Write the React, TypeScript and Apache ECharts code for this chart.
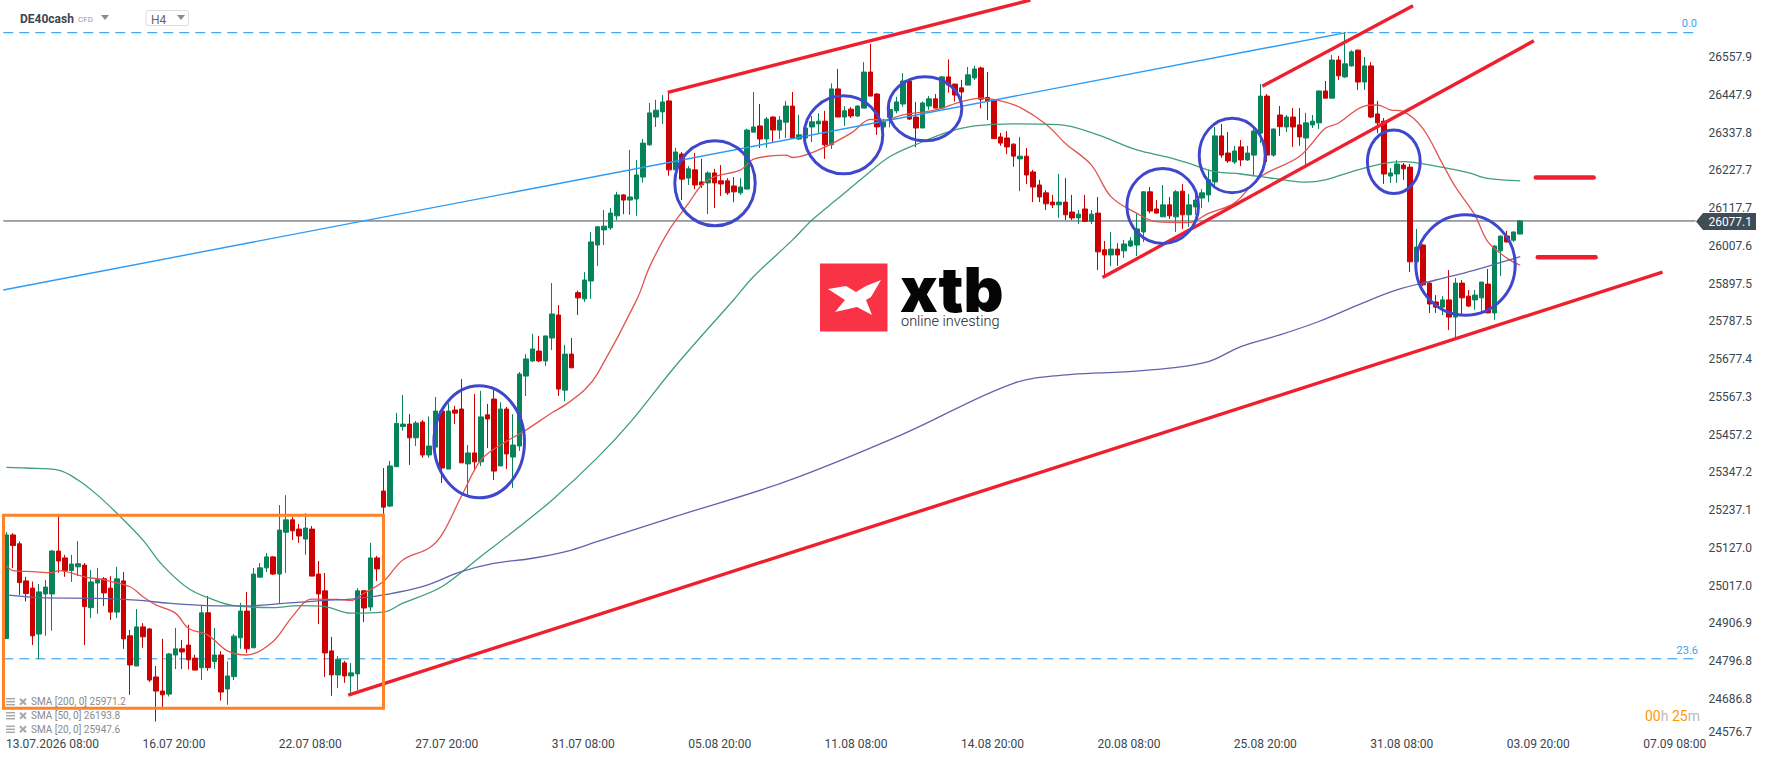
import React, { useEffect, useRef } from 'react';
import * as echarts from 'echarts';

// [open, close, low, high], one row per H4 bar
const ohlc: number[][] = [
  [24860,25162,24860,25170],[25162,25131,25065,25167],[25136,25023,24987,25143],[25028,24991,24968,25040],[25007,24868,24841,25026],
  [24873,24996,24800,25019],[24990,25010,24868,25031],[24990,25115,24883,25118],[25115,25086,25052,25217],[25095,25058,25040,25104],
  [25058,25077,25025,25104],[25069,25078,25042,25144],[25074,24953,24841,25080],[24950,25025,24920,25060],[25022,25032,24932,25066],
  [25034,24993,24955,25039],[25007,24937,24914,25042],[24937,25034,24920,25069],[25028,24859,24830,25054],[24868,24783,24696,24885],
  [24780,24894,24780,24946],[24894,24865,24833,24905],[24888,24739,24733,24891],[24748,24707,24618,24780],[24707,24696,24657,24859],
  [24698,24815,24691,24818],[24812,24830,24771,24891],[24830,24821,24771,24856],[24841,24798,24770,24900],[24803,24768,24768,24813],
  [24775,24935,24739,24958],[24935,24775,24766,24984],[24793,24812,24772,24891],[24812,24704,24679,24823],[24713,24751,24667,24793],
  [24749,24867,24739,24873],[24862,24940,24830,24964],[24940,24830,24818,24996],[24833,25048,24833,25066],[25039,25066,25039,25080],
  [25066,25098,25054,25109],[25098,25048,25045,25100],[25048,25176,24961,25249],[25170,25206,25051,25278],[25206,25174,25147,25214],
  [25179,25159,25139,25194],[25150,25182,25104,25225],[25179,25042,25042,25188],[25048,24990,24902,25086],[24999,24818,24748,25051],
  [24824,24754,24693,24865],[24754,24800,24716,24809],[24789,24751,24731,24795],[24751,24760,24698,24789],[24757,24999,24710,25007],
  [24999,24949,24908,25000],[24952,25095,24940,25139],[25095,25063,25028,25101],[25290,25243,25223,25357],[25246,25363,25243,25378],
  [25361,25487,25361,25518],[25478,25485,25466,25570],[25485,25445,25366,25514],[25445,25488,25421,25494],[25491,25395,25387,25497],
  [25395,25421,25387,25507],[25418,25523,25410,25564],[25523,25357,25313,25530],[25354,25523,25354,25546],[25526,25517,25485,25538],
  [25529,25372,25372,25616],[25369,25401,25278,25424],[25401,25375,25348,25573],[25375,25506,25363,25582],[25512,25500,25415,25544],
  [25558,25348,25322,25587],[25363,25529,25363,25549],[25529,25398,25354,25535],[25389,25424,25299,25514],[25421,25631,25407,25637],
  [25625,25675,25567,25689],[25669,25704,25666,25748],[25698,25669,25666,25742],[25669,25742,25654,25742],[25736,25806,25701,25896],
  [25803,25587,25567,25832],[25584,25689,25552,25716],[25689,25649,25649,25736],[25868,25853,25803,25874],[25850,25905,25841,25928],
  [25902,26016,25850,26045],[26007,26060,25946,26062],[26051,26062,26007,26109],[26057,26100,26051,26115],[26092,26153,26080,26162],
  [26153,26138,26097,26155],[26138,26147,26095,26284],[26141,26211,26092,26255],[26205,26304,26189,26316],[26299,26392,26296,26421],
  [26380,26400,26351,26430],[26395,26424,26360,26444],[26427,26226,26209,26451],[26226,26278,26226,26290],[26272,26199,26138,26278],
  [26202,26229,26182,26237],[26226,26182,26170,26275],[26191,26182,26173,26258],[26188,26217,26097,26222],[26217,26188,26115,26229],
  [26194,26185,26150,26240],[26194,26159,26153,26202],[26179,26162,26132,26205],[26159,26176,26153,26202],[26170,26342,26170,26346],
  [26336,26351,26336,26453],[26354,26316,26290,26418],[26316,26374,26291,26380],[26380,26342,26307,26382],[26342,26371,26316,26383],
  [26365,26412,26319,26427],[26412,26319,26316,26453],[26316,26328,26313,26386],[26319,26348,26313,26362],[26351,26366,26307,26383],
  [26360,26368,26333,26391],[26368,26299,26258,26398],[26299,26462,26287,26478],[26462,26380,26380,26520],[26380,26398,26354,26412],
  [26403,26383,26377,26409],[26383,26412,26380,26414],[26406,26511,26406,26540],[26511,26441,26441,26593],[26447,26351,26328,26450],
  [26351,26366,26342,26375],[26379,26402,26350,26415],[26398,26424,26391,26439],[26418,26485,26410,26508],[26485,26374,26371,26488],
  [26380,26348,26292,26424],[26348,26421,26348,26425],[26412,26433,26401,26441],[26433,26406,26406,26447],[26406,26497,26406,26500],
  [26497,26473,26451,26548],[26476,26444,26425,26477],[26465,26453,26430,26488],[26473,26503,26473,26526],[26494,26520,26488,26529],
  [26523,26432,26405,26527],[26437,26427,26371,26511],[26430,26317,26317,26432],[26322,26304,26296,26334],[26319,26293,26272,26339],
  [26301,26266,26235,26303],[26258,26266,26164,26322],[26266,26211,26185,26290],[26220,26176,26132,26226],[26182,26147,26132,26197],
  [26159,26127,26109,26167],[26132,26124,26115,26153],[26124,26132,26086,26214],[26132,26095,26080,26202],[26103,26086,26080,26153],
  [26086,26097,26068,26109],[26112,26076,26076,26153],[26076,26097,26068,26109],[26100,25987,25934,26147],[25993,25978,25917,26019],
  [25978,25995,25946,26045],[25995,25978,25946,26012],[25990,26010,25969,26022],[26004,26019,26001,26030],[26007,26054,25975,26097],
  [26045,26162,26016,26164],[26162,26106,26099,26176],[26112,26100,26099,26138],[26089,26124,26089,26182],[26124,26092,26083,26147],
  [26089,26162,26045,26167],[26164,26095,26054,26185],[26095,26124,26060,26156],[26118,26138,26095,26167],[26144,26159,26115,26170],
  [26153,26197,26132,26226],[26191,26325,26173,26351],[26325,26269,26261,26360],[26275,26252,26246,26336],[26249,26281,26243,26296],
  [26293,26255,26237,26313],[26255,26275,26252,26296],[26269,26339,26208,26345],[26333,26441,26304,26476],[26441,26269,26249,26447],
  [26269,26345,26264,26347],[26386,26352,26325,26412],[26351,26380,26336,26386],[26380,26351,26293,26406],[26357,26322,26296,26406],
  [26319,26363,26240,26392],[26357,26368,26348,26386],[26363,26456,26345,26458],[26456,26435,26435,26485],[26435,26546,26435,26561],
  [26546,26500,26488,26558],[26497,26535,26494,26628],[26529,26570,26527,26575],[26575,26482,26459,26577],[26482,26529,26459,26555],
  [26529,26380,26377,26540],[26389,26363,26333,26427],[26368,26214,26185,26377],[26208,26217,26188,26232],[26214,26243,26188,26255],
  [26240,26229,26197,26246],[26234,25958,25928,26243],[25958,26001,25958,26054],[26007,25891,25888,26009],[25896,25835,25809,25898],
  [25841,25826,25809,25861],[25826,25847,25803,25858],[25847,25797,25759,25934],[25797,25896,25736,25911],[25896,25853,25800,25905],
  [25858,25829,25826,25876],[25847,25861,25818,25876],[25853,25899,25812,25899],[25893,25809,25809,25937],[25809,26004,25789,26006],
  [25990,26033,25917,26035],[26033,26016,26014,26048],[26021,26045,26016,26046],[26039,26077,26039,26080],
];

// moving averages as [bar index, price]
const sma20 = [[0,25072],[1,25058],[4,25055],[7,25052],[8,25058],[12,25040],[15,25031],[19,25011],[21,24982],[23,24958],[26,24934],[28,24890],[31,24870],[34,24824],[37,24812],[41,24851],[44,24924],[47,24975],[51,24974],[53,24971],[55,24992],[58,25026],[61,25089],[65,25123],[67,25162],[70,25274],[73,25380],[76,25424],[80,25468],[84,25519],[86,25541],[89,25585],[91,25633],[97,25847],[99,25944],[102,26051],[105,26129],[107,26182],[109,26206],[113,26226],[115,26257],[120,26269],[121,26262],[125,26284],[130,26333],[133,26373],[135,26371],[138,26386],[143,26401],[147,26425],[150,26435],[153,26427],[156,26408],[160,26359],[163,26303],[167,26240],[170,26148],[174,26099],[177,26075],[182,26072],[185,26099],[189,26129],[193,26206],[199,26265],[203,26347],[205,26362],[209,26412],[211,26415],[213,26401],[215,26396],[218,26347],[221,26245],[223,26177],[226,26095],[228,26017],[231,25968],[233,25948]];
const sma50 = [[0,25359],[3,25357],[8,25351],[11,25322],[14,25278],[17,25225],[21,25147],[24,25074],[28,25006],[32,24972],[35,24956],[41,24950],[45,24956],[49,24953],[53,24934],[58,24937],[61,24963],[67,25011],[73,25099],[78,25172],[84,25264],[91,25388],[96,25490],[103,25655],[112,25849],[115,25915],[121,26022],[124,26080],[128,26143],[132,26206],[136,26265],[141,26308],[145,26337],[149,26354],[155,26360],[162,26358],[168,26328],[174,26284],[179,26262],[182,26245],[186,26221],[190,26214],[195,26201],[200,26190],[203,26197],[208,26226],[212,26245],[215,26250],[220,26237],[225,26218],[228,26201],[233,26194]];
const sma200 = [[0,24987],[5,24979],[14,24977],[20,24972],[25,24963],[31,24956],[37,24955],[43,24963],[49,24971],[53,24975],[58,24987],[64,25011],[70,25055],[75,25079],[81,25094],[87,25118],[91,25143],[103,25216],[120,25318],[138,25456],[155,25604],[164,25630],[172,25637],[179,25648],[185,25667],[190,25711],[196,25745],[202,25784],[208,25832],[214,25876],[220,25905],[226,25934],[233,25973]];

const priceTicks = [26557.9,26447.9,26337.8,26227.7,26117.7,26007.6,25897.5,25787.5,25677.4,25567.3,25457.2,25347.2,25237.1,25127.0,25017.0,24906.9,24796.8,24686.8,24576.7];
const dateLabels = ['13.07.2026 08:00','16.07 20:00','22.07 08:00','27.07 20:00','31.07 08:00','05.08 20:00','11.08 08:00','14.08 20:00','20.08 08:00','25.08 20:00','31.08 08:00','03.09 20:00','07.09 08:00'];
const legendRows = ['SMA [200, 0] 25971.2','SMA [50, 0] 26193.8','SMA [20, 0] 25947.6'];

const lastPrice = 26077.1;
const fib0 = 26625.8;
const fib236 = 24800.9;

// drawn lines as [[bar position, price], [bar position, price]]
const fibTrend = [[0,25876],[206.7,26626]];
const redThin = [
  [[102.3,26452],[158.1,26721]],
  [[193.8,26470],[217,26704]],
  [[169.2,25912],[235.6,26602]],
  [[53.1,24695],[255.4,25928]],
];
const redDashes = [
  [[235.9,26204],[244.8,26204]],
  [[236.2,25971],[245.1,25971]],
];

const circles = [
  [479.2,441.8,45.3,56],[715,183.3,40.2,42.5],[843.5,134.8,39.3,39],[925,108.8,36.8,32],
  [1162.7,206,35.8,37.5],[1232.2,155.5,33,37.3],[1393.8,161.7,26.4,31.8],[1465.5,265,49.7,50.2],
];

const BAR_SLOTS = 261;
const FONT = 'Roboto';

function overlay(data: number[][], color: string, width: number, z: number, extra: object = {}) {
  return {
    type: 'line', xAxisIndex: 1, yAxisIndex: 0, data, showSymbol: false, silent: true, z,
    lineStyle: { color, width, ...extra },
  };
}

function smaLine(data: number[][], color: string) {
  return { type: 'line', data, showSymbol: false, silent: true, z: 3, smooth: 0.35, lineStyle: { color, width: 1.3 } };
}

function txt(text: string, x: number, y: number, fontSize: number, fill: string, extra: object = {}) {
  return {
    type: 'text', z: 12, silent: true,
    style: { text, x, y, fontSize, fontFamily: FONT, fill, verticalAlign: 'middle', ...extra },
  };
}

function tri(x: number) {
  return { type: 'polygon', z: 12, silent: true, shape: { points: [[x, 15], [x + 8, 15], [x + 4, 20]] }, style: { fill: '#8c8c8c' } };
}

const App: React.FC = () => {
  const ref = useRef<HTMLDivElement>(null);

  useEffect(() => {
    if (!ref.current) return;
    document.body.style.margin = '0';
    const chart = echarts.init(ref.current, undefined, { renderer: 'svg' });
    const categories = Array.from({ length: BAR_SLOTS }, (_, i) => String(i));

    const legendIcons: any[] = [];
    [701.7, 715.7, 729.3].forEach((y, k) => {
      [-3, 0, 3].forEach(d => legendIcons.push({
        type: 'line', z: 12, silent: true, shape: { x1: 6, y1: y + d, x2: 15, y2: y + d }, style: { stroke: '#a8a8a8', lineWidth: 1.5 },
      }));
      legendIcons.push({ type: 'line', z: 12, silent: true, shape: { x1: 20, y1: y - 3, x2: 26, y2: y + 3 }, style: { stroke: '#a8a8a8', lineWidth: 2 } });
      legendIcons.push({ type: 'line', z: 12, silent: true, shape: { x1: 26, y1: y - 3, x2: 20, y2: y + 3 }, style: { stroke: '#a8a8a8', lineWidth: 2 } });
      legendIcons.push(txt(legendRows[k], 31, y, 10, '#8a8a8a'));
    });

    chart.setOption({
      animation: false,
      backgroundColor: '#ffffff',
      grid: { left: 3.25, right: 69.1, top: 0, bottom: 22 },
      xAxis: [
        {
          type: 'category', data: categories, boundaryGap: true,
          axisLine: { show: false }, axisTick: { show: false }, splitLine: { show: false },
          axisLabel: {
            interval: (i: number) => (i - 5) % 21 === 0,
            formatter: (_: string, i: number) => {
              const k = (i - 5) / 21;
              return k === 0 ? `{first|${dateLabels[0]}}` : dateLabels[k] ?? '';
            },
            rich: { first: { padding: [0, 0, 0, 30], fontFamily: FONT, fontSize: 12, color: '#3a4650' } },
            color: '#3a4650', fontFamily: FONT, fontSize: 12, margin: 5, verticalAlign: 'middle', padding: [0, 3, 0, 0],
            hideOverlap: false,
          },
        },
        { type: 'value', min: 0, max: BAR_SLOTS, show: false },
      ],
      yAxis: {
        type: 'value', position: 'right', min: 24567.2, max: 26721.1, scale: true,
        axisLine: { show: false }, axisTick: { show: false }, splitLine: { show: false },
        axisLabel: {
          customValues: priceTicks,
          formatter: (v: number) => (v === 24576.7 ? `{low|${v.toFixed(1)}}` : v.toFixed(1)),
          rich: { low: { padding: [0, 0, 10, 0], fontFamily: FONT, fontSize: 12, color: '#3a4650' } },
          color: '#3a4650', fontFamily: FONT, fontSize: 12, margin: 9.5, align: 'left', padding: [2, 0, 0, 0],
        },
      },
      series: [
        overlay([[0, fib0], [BAR_SLOTS, fib0]], '#1e96f0', 1, 1, { type: [10, 6] }),
        overlay([[0, fib236], [BAR_SLOTS, fib236]], '#1e96f0', 1, 1, { type: [10, 6] }),
        overlay([[0, lastPrice], [BAR_SLOTS - 0.5, lastPrice]], '#3f4d57', 1, 1),
        {
          type: 'candlestick', data: ohlc, barWidth: 5, silent: true, z: 2,
          itemStyle: { color: '#07835a', borderColor: '#07835a', color0: '#cc0000', borderColor0: '#cc0000', borderWidth: 1 },
        },
        smaLine(sma20, '#e2544e'),
        smaLine(sma50, '#3f9e7d'),
        smaLine(sma200, '#5f63ad'),
        overlay(fibTrend, '#2b9bf5', 1.4, 4),
        ...redThin.map(l => overlay(l, '#ee2030', 3.4, 5)),
        ...redDashes.map(l => overlay(l, '#ee2030', 4.5, 5, { cap: 'round' })),
      ],
      graphic: { elements: [
        ...circles.map(([cx, cy, rx, ry]) => ({
          type: 'ellipse', z: 10, silent: true, shape: { cx, cy, rx, ry }, style: { fill: 'transparent', stroke: '#3f48cc', lineWidth: 3 },
        })),
        { type: 'rect', z: 10, silent: true, shape: { x: 3.5, y: 515.2, width: 380, height: 193 }, style: { fill: 'transparent', stroke: '#ff8229', lineWidth: 3 } },

        // logo
        { type: 'rect', z: 11, silent: true, shape: { x: 820, y: 263.5, width: 67.5, height: 68 }, style: { fill: '#f93345' } },
        { type: 'polygon', z: 12, silent: true, shape: { points: [[828, 289], [846, 286], [856, 292], [866, 286], [881, 280], [871, 297], [866, 300], [872, 315], [857, 307], [835, 312], [845, 300]] }, style: { fill: '#ffffff' } },
        txt('xtb', 900, 289, 62, '#050505', { fontFamily: 'Inter', fontWeight: 900, lineHeight: 46 }),
        txt('online investing', 901, 321, 14.5, '#222222', { fontWeight: 300 }),

        // header
        txt('DE40cash', 20, 19, 12, '#3c4650', { fontWeight: 'bold' }),
        txt('CFD', 78, 19.5, 8, '#999999'),
        tri(101),
        { type: 'rect', z: 12, silent: true, shape: { x: 146, y: 10.5, width: 42.5, height: 15, r: 2 }, style: { fill: '#ffffff', stroke: '#dddddd', lineWidth: 1 } },
        txt('H4', 151, 19.7, 12, '#666666'),
        tri(177),

        // level tags and price tag
        txt('0.0', 1697, 23.3, 11, '#3aa0f5', { align: 'right' }),
        txt('23.6', 1698, 650.3, 11, '#3aa0f5', { align: 'right' }),
        { type: 'polygon', z: 12, silent: true, shape: { points: [[1696, 221.5], [1703, 213], [1756, 213], [1756, 230], [1703, 230]] }, style: { fill: '#3f4d57' } },
        txt(lastPrice.toFixed(1), 1708.4, 222.3, 12, '#ffffff'),
        {
          type: 'text', z: 12, silent: true,
          style: {
            text: '{o|00}{g|h} {o|25}{g|m}', x: 1645, y: 716, verticalAlign: 'middle', fontFamily: FONT, fontSize: 14,
            rich: {
              o: { fill: '#ff9800', fontFamily: FONT, fontSize: 14 },
              g: { fill: '#bbbbbb', fontFamily: FONT, fontSize: 14 },
            },
          },
        },
        ...legendIcons,
      ] },
    });

    return () => { chart.dispose(); };
  }, []);

  return <div ref={ref} style={{ position: 'absolute', left: 0, top: 0, width: 1768, height: 761 }} />;
};

export default App;
